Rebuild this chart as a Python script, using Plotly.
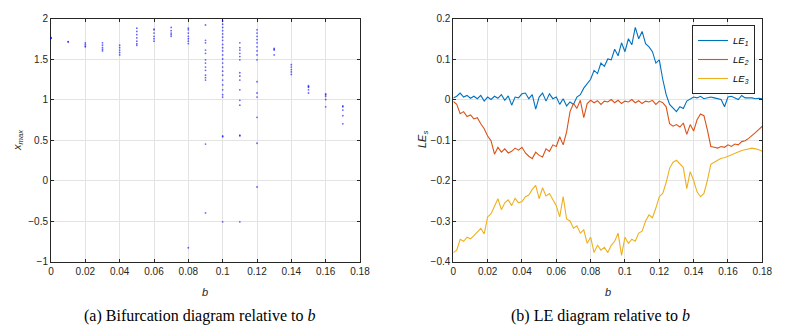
import numpy as np
import plotly.graph_objects as go

# ---- bifurcation data: x_max samples for each b ----
bif_b = [0.0, 0.01, 0.02, 0.03, 0.04, 0.05, 0.06, 0.07, 0.08,
         0.09, 0.10, 0.11, 0.12, 0.13, 0.14, 0.15, 0.16, 0.17]
bif_xmax = [
    [1.765, 1.76, 1.755],
    [1.715, 1.71],
    [1.70, 1.68, 1.66, 1.65],
    [1.70, 1.67, 1.64, 1.62, 1.60],
    [1.67, 1.64, 1.61, 1.58, 1.55],
    [1.88, 1.84, 1.80, 1.76, 1.72, 1.69, 1.67],
    [1.87, 1.86, 1.82, 1.78, 1.75, 1.72],
    [1.89, 1.85, 1.82, 1.80, 1.78],
    [1.88, 1.86, 1.82, 1.78, 1.75, 1.72, 1.69, -0.83],
    [1.92, 1.73, 1.70, 1.61, 1.57, 1.49, 1.45, 1.40, 1.36, 1.30, 1.27, 1.24, 0.45, -0.40],
    [1.97, 1.93, 1.89, 1.85, 1.81, 1.77, 1.73, 1.68, 1.64, 1.60, 1.55, 1.50,
     1.45, 1.40, 1.35, 1.30, 1.24, 1.18, 1.12, 1.06, 1.03, 0.55, 0.54, -0.51],
    [1.70, 1.64, 1.61, 1.57, 1.53, 1.49, 1.33, 1.29, 1.24, 1.12, 0.99, 0.93, 0.56, 0.55, -0.51],
    [1.86, 1.82, 1.78, 1.74, 1.70, 1.65, 1.60, 1.55, 1.49, 1.22, 1.08, 1.03, 0.78, 0.46, -0.08],
    [1.63, 1.62, 1.61, 1.55],
    [1.43, 1.40, 1.37, 1.34, 1.31],
    [1.17, 1.16, 1.15, 1.12, 1.08],
    [1.07, 1.06, 1.04, 1.00, 0.91],
    [0.92, 0.91, 0.87, 0.80, 0.70],
]

# ---- Lyapunov exponents, b = 0 ... 0.18 step 0.002 ----
le_b = np.round(np.linspace(0, 0.18, 91), 3)
le1 = [0.004, 0.008, 0.016, 0.006, 0.010, 0.003, 0.008, 0.002, 0.010, -0.004,
       0.006, 0.000, 0.008, 0.003, 0.012, -0.002, 0.009, -0.014, 0.006, 0.004,
       0.014, 0.016, 0.002, 0.012, -0.024, 0.006, 0.016, -0.004, 0.014, 0.002,
       0.006, -0.012, 0.002, -0.016, -0.006, -0.012, 0.006, 0.012, 0.028, 0.040,
       0.050, 0.072, 0.064, 0.090, 0.082, 0.100, 0.098, 0.124, 0.108, 0.140,
       0.118, 0.150, 0.135, 0.178, 0.150, 0.168, 0.138, 0.130, 0.118, 0.090,
       0.098, 0.050, 0.012, -0.012, -0.020, -0.030, -0.018, -0.022, -0.004, 0.000,
       0.006, 0.004, 0.008, 0.002, 0.004, 0.006, 0.004, 0.002, 0.000, -0.018,
       0.006, 0.008, 0.004, 0.000, 0.010, 0.004, 0.004, 0.004, 0.002, 0.003,
       0.002]
le2 = [-0.005, -0.012, -0.035, -0.030, -0.042, -0.038, -0.048, -0.045, -0.060, -0.072,
       -0.090, -0.102, -0.135, -0.118, -0.130, -0.122, -0.132, -0.128, -0.120, -0.125,
       -0.118, -0.132, -0.140, -0.146, -0.130, -0.138, -0.142, -0.122, -0.128, -0.112,
       -0.116, -0.092, -0.112, -0.080, -0.030, -0.010, -0.022, -0.002, -0.045, -0.010,
       -0.002, -0.008, -0.003, -0.012, -0.004, -0.006, 0.000, -0.008, -0.002, -0.010,
       -0.004, -0.006, 0.000, -0.008, -0.003, -0.010, -0.004, -0.006, -0.002, -0.012,
       -0.004, -0.008, -0.018, -0.060, -0.066, -0.062, -0.068, -0.058, -0.086, -0.062,
       -0.078, -0.050, -0.036, -0.040, -0.075, -0.116, -0.118, -0.120, -0.116, -0.118,
       -0.112, -0.116, -0.110, -0.112, -0.104, -0.102, -0.096, -0.090, -0.082, -0.074,
       -0.066]
le3 = [-0.378, -0.372, -0.345, -0.350, -0.340, -0.344, -0.336, -0.328, -0.318, -0.332,
       -0.290, -0.282, -0.262, -0.245, -0.272, -0.255, -0.248, -0.262, -0.244, -0.255,
       -0.252, -0.240, -0.236, -0.222, -0.212, -0.245, -0.218, -0.238, -0.232, -0.248,
       -0.262, -0.290, -0.240, -0.295, -0.300, -0.318, -0.312, -0.330, -0.322, -0.355,
       -0.340, -0.378, -0.360, -0.372, -0.365, -0.378, -0.360, -0.350, -0.330, -0.385,
       -0.340, -0.355, -0.345, -0.350, -0.330, -0.325, -0.300, -0.285, -0.292, -0.268,
       -0.240, -0.232, -0.205, -0.170, -0.155, -0.150, -0.158, -0.168, -0.220, -0.178,
       -0.200, -0.228, -0.240, -0.232, -0.200, -0.160, -0.155, -0.150, -0.145, -0.144,
       -0.140, -0.138, -0.134, -0.130, -0.126, -0.124, -0.122, -0.120, -0.122, -0.124,
       -0.128]

xs, ys = [], []
for b, vals in zip(bif_b, bif_xmax):
    xs += [b] * len(vals)
    ys += vals

# page body keeps its default 8px margin, so lay out in screen pixels minus that
OFF = 8
W, H = 785 - OFF, 326 - OFF


def px(x):
    return (x - OFF) / W


def py(y):
    return 1 - (y - OFF) / H


AX = "#262626"
GRID = "#e3e3e3"
TICKFONT = dict(family="Liberation Sans, Arial", size=10, color=AX)

fig = go.Figure()
fig.add_trace(go.Scatter(x=xs, y=ys, mode="markers", xaxis="x", yaxis="y", cliponaxis=False,
                         marker=dict(color="rgb(0,0,255)", size=1.8, opacity=0.6),
                         showlegend=False))
for name, vals, col in [("<i>LE</i><sub><i>1</i></sub>", le1, "#0072BD"),
                        ("<i>LE</i><sub><i>2</i></sub>", le2, "#D95319"),
                        ("<i>LE</i><sub><i>3</i></sub>", le3, "#EDB120")]:
    fig.add_trace(go.Scatter(x=le_b, y=vals, mode="lines", name=name, xaxis="x2", yaxis="y2",
                             line=dict(color=col, width=1.1)))

axis_common = dict(showline=True, linecolor=AX, linewidth=1, mirror="ticks",
                   ticks="inside", ticklen=3, tickcolor=AX, showgrid=True,
                   gridcolor=GRID, gridwidth=1, zeroline=False, tickfont=TICKFONT,
                   automargin=False)
ydom = [py(261.5), py(18.5)]

fig.update_layout(
    width=W, height=H, margin=dict(l=0, r=0, t=0, b=0, autoexpand=False),
    plot_bgcolor="white", paper_bgcolor="white",
    xaxis=dict(domain=[px(51), px(360)], range=[0, 0.18], dtick=0.02, anchor="y",
               layer="below traces", **axis_common),
    yaxis=dict(domain=ydom, range=[-1, 2], dtick=0.5, anchor="x",
               layer="below traces", **axis_common),
    xaxis2=dict(domain=[px(453.3), px(762.3)], range=[0, 0.18], dtick=0.02, anchor="y2", **axis_common),
    yaxis2=dict(domain=ydom, range=[-0.4, 0.2], dtick=0.1, anchor="x2", **axis_common),
    legend=dict(x=px(755), xanchor="right", y=py(25), yanchor="top",
                bgcolor="white", bordercolor=AX, borderwidth=1, itemwidth=30,
                font=dict(family="Liberation Sans, Arial", size=9.5, color="black"),
                tracegroupgap=0),
)

lab = dict(family="Liberation Sans, Arial", size=11, color=AX)
cap = dict(family="Liberation Serif, Times New Roman", size=16, color="black")
annos = [
    dict(x=px(205.5), y=py(292), text="<i>b</i>", font=lab),
    dict(x=px(608), y=py(292), text="<i>b</i>", font=lab),
    dict(x=px(18), y=py(140), text="<i>x</i><sub><i>max</i></sub>", font=lab, textangle=-90),
    dict(x=px(423), y=py(140), text="<i>LE</i><sub><i>s</i></sub>", font=lab, textangle=-90),
    dict(x=px(199), y=py(316), text="(a) Bifurcation diagram relative to <i>b</i>", font=cap),
    dict(x=px(600), y=py(316), text="(b) LE diagram relative to <i>b</i>", font=cap),
]
for a in annos:
    fig.add_annotation(xref="paper", yref="paper", showarrow=False,
                       xanchor="center", yanchor="middle", **a)

fig.write_html("out.html")
